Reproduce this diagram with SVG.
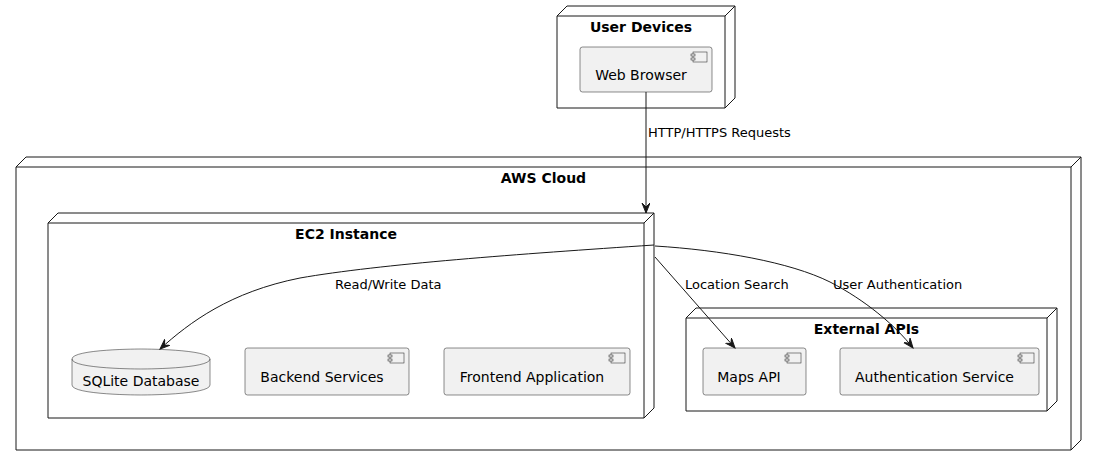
<svg xmlns="http://www.w3.org/2000/svg" width="1096" height="466" viewBox="0 0 1096 466">
<defs>
<style>
.node{fill:#FFFFFF;stroke:#181818;stroke-width:1;}
.nl{fill:none;stroke:#181818;stroke-width:1;}
.comp{fill:#F1F1F1;stroke:#181818;stroke-width:0.5;}
.ico{fill:#F1F1F1;stroke:#181818;stroke-width:0.5;}
.title{font-family:"DejaVu Sans",sans-serif;font-size:14px;font-weight:bold;fill:#000;text-anchor:middle;}
.lbl{font-family:"DejaVu Sans",sans-serif;font-size:14px;fill:#000;text-anchor:middle;}
.elbl{font-family:"DejaVu Sans",sans-serif;font-size:13px;fill:#000;}
.edge{fill:none;stroke:#181818;stroke-width:1;marker-end:url(#arr);}
</style>
<marker id="arr" markerUnits="userSpaceOnUse" markerWidth="12" markerHeight="10" refX="10" refY="4" orient="auto" viewBox="0 0 12 10">
<path d="M0,0 L10,4 L0,8 L4,4 Z" fill="#181818" stroke="#181818" stroke-width="1"/>
</marker>
</defs>
<rect width="1096" height="466" fill="#FFFFFF"/>

<g id="aws-cloud">
<path class="node" d="M16,167 L26,157 L1081,157 L1081,440 L1071,450 L16,450 Z"/>
<path class="nl" d="M1071,167 L1081,157 M16,167 L1071,167 L1071,450"/>
<text class="title" x="543.5" y="183">AWS Cloud</text>
</g>

<g id="user-devices">
<path class="node" d="M557,16 L567,6 L735,6 L735,98 L725,108 L557,108 Z"/>
<path class="nl" d="M725,16 L735,6 M557,16 L725,16 L725,108"/>
<text class="title" x="641" y="32">User Devices</text>
</g>

<g id="web-browser">
<rect class="comp" x="580" y="47" width="132" height="45" rx="2.5"/>
<rect class="ico" x="693" y="52" width="14" height="10"/>
<rect class="ico" x="691" y="54" width="4" height="2"/>
<rect class="ico" x="691" y="58" width="4" height="2"/>
<text class="lbl" x="641" y="80">Web Browser</text>
</g>

<g id="ec2-instance">
<path class="node" d="M48,223 L58,213 L654,213 L654,408 L644,418 L48,418 Z"/>
<path class="nl" d="M644,223 L654,213 M48,223 L644,223 L644,418"/>
<text class="title" x="346" y="239">EC2 Instance</text>
</g>

<g id="sqlite-database">
<path class="comp" d="M72,359 C72,349 141,349 141,349 C141,349 210,349 210,359 L210,385 C210,395 141,395 141,395 C141,395 72,395 72,385 Z"/>
<path class="comp" style="fill:none" d="M72,359 C72,369 141,369 141,369 C141,369 210,369 210,359"/>
<text class="lbl" x="141" y="386">SQLite Database</text>
</g>

<g id="backend-services">
<rect class="comp" x="245" y="348" width="164" height="47" rx="2.5"/>
<rect class="ico" x="390" y="353" width="14" height="10"/>
<rect class="ico" x="388" y="355" width="4" height="2"/>
<rect class="ico" x="388" y="359" width="4" height="2"/>
<text class="lbl" x="322" y="382">Backend Services</text>
</g>

<g id="frontend-application">
<rect class="comp" x="444" y="348" width="186" height="47" rx="2.5"/>
<rect class="ico" x="611" y="353" width="14" height="10"/>
<rect class="ico" x="609" y="355" width="4" height="2"/>
<rect class="ico" x="609" y="359" width="4" height="2"/>
<text class="lbl" x="532" y="382">Frontend Application</text>
</g>

<g id="external-apis">
<path class="node" d="M686,318 L696,308 L1057,308 L1057,401 L1047,411 L686,411 Z"/>
<path class="nl" d="M1047,318 L1057,308 M686,318 L1047,318 L1047,411"/>
<text class="title" x="866.5" y="334">External APIs</text>
</g>

<g id="maps-api">
<rect class="comp" x="703" y="348" width="103" height="47" rx="2.5"/>
<rect class="ico" x="787" y="353" width="14" height="10"/>
<rect class="ico" x="785" y="355" width="4" height="2"/>
<rect class="ico" x="785" y="359" width="4" height="2"/>
<text class="lbl" x="749" y="382">Maps API</text>
</g>

<g id="authentication-service">
<rect class="comp" x="840" y="348" width="199" height="47" rx="2.5"/>
<rect class="ico" x="1020" y="353" width="14" height="10"/>
<rect class="ico" x="1018" y="355" width="4" height="2"/>
<rect class="ico" x="1018" y="359" width="4" height="2"/>
<text class="lbl" x="934.5" y="382">Authentication Service</text>
</g>

<g id="connectors">
<path class="edge" d="M646,92 L646,213"/>
<text class="elbl" x="648" y="137">HTTP/HTTPS Requests</text>
<path class="edge" d="M654,245 C520,254 380,264 300,278 C230,292 190,322 160,349"/>
<text class="elbl" x="335" y="289">Read/Write Data</text>
<path class="edge" d="M655,257 L735,348"/>
<text class="elbl" x="685" y="289">Location Search</text>
<path class="edge" d="M655,246 C720,250 790,262 830,282 C865,300 895,325 913,348"/>
<text class="elbl" x="833" y="289">User Authentication</text>
</g>
</svg>
